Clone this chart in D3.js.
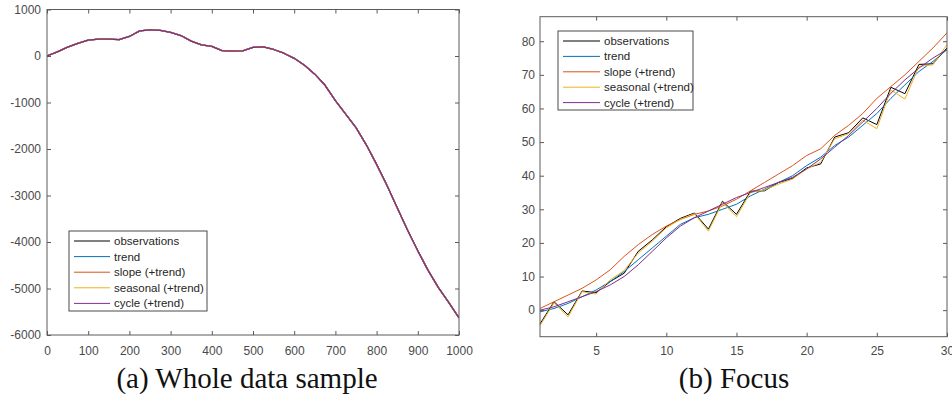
<!DOCTYPE html>
<html>
<head>
<meta charset="utf-8">
<script src="https://cdn.jsdelivr.net/npm/d3@7"></script>
<style>
  html, body { margin: 0; padding: 0; background: #fff; }
  svg { display: block; }
  .tick text { font-family: "Liberation Sans", Arial, sans-serif; font-size: 12px; fill: #4a4a4a; }
  .legend text { font-family: "Liberation Sans", Arial, sans-serif; font-size: 11.5px; fill: #262626; }
  .caption { font-family: "Liberation Serif", "Times New Roman", serif; font-size: 29px; fill: #111; }
</style>
</head>
<body>
<svg id="chart" width="952" height="400"></svg>
<script>
// ---------- data ----------
const seriesNames = ["observations", "trend", "slope (+trend)", "seasonal (+trend)", "cycle (+trend)"];
const seriesColors = ["#000000", "#0072BD", "#D95319", "#EDB120", "#7E2F8E"];

// (a) whole data sample (all components overlap)
const wholeX = [0,25,50,75,100,125,150,175,200,225,250,275,300,325,350,375,400,425,450,475,500,525,550,575,600,625,650,675,700,725,750,775,800,825,850,875,900,925,950,975,1000];
const wholeY = [0,90,190,270,340,365,365,350,420,540,560,550,510,440,320,240,205,115,105,110,185,195,140,60,-50,-200,-390,-630,-960,-1250,-1540,-1910,-2330,-2780,-3265,-3740,-4190,-4610,-4980,-5300,-5630];
const wholeXTicks = [0,100,200,300,400,500,600,700,800,900,1000];
const wholeYTicks = [-6000,-5000,-4000,-3000,-2000,-1000,0,1000];

// (b) focus on first 30 observations
const focusX = [1,2,3,4,5,6,7,8,9,10,11,12,13,14,15,16,17,18,19,20,21,22,23,24,25,26,27,28,29,30];
const observations = [-4.1,2.5,-1.4,5.7,5.2,8.5,11.0,17.5,20.9,24.8,27.3,28.9,24.1,32.4,28.5,35.4,35.5,38.0,39.2,42.3,43.5,51.5,52.8,57.2,55.2,66.3,64.4,73.1,73.3,78.0];
const trend        = [-0.5,0.5,2.0,4.0,6.0,8.5,11.5,15.0,18.5,22.0,25.5,27.5,28.5,30.0,31.5,34.0,36.0,38.0,40.0,43.0,45.5,49.0,51.5,55.0,58.5,63.0,67.0,71.0,74.0,77.5];
const slope        = [0.5,2.5,4.5,6.5,9.0,12.0,16.0,19.5,22.5,25.0,27.0,28.5,29.5,31.0,33.0,35.5,38.0,40.5,43.0,46.0,48.0,52.0,55.0,58.5,63.0,66.5,70.0,74.0,78.0,82.5];
const seasonal     = [-4.6,2.2,-2.0,5.5,4.8,9.0,11.8,17.0,20.5,24.5,27.0,28.7,23.5,32.0,27.8,35.0,35.8,37.5,39.0,42.0,44.0,51.0,52.5,56.5,54.0,65.5,62.8,72.5,73.0,79.0];
const cycle        = [0.0,1.0,2.5,4.0,5.5,7.5,10.0,13.5,17.5,21.5,25.0,27.5,29.5,31.5,33.5,35.0,36.5,38.0,39.5,42.0,45.0,48.5,52.0,56.0,60.0,64.5,68.5,72.0,75.0,77.5];
const focusXTicks = [5,10,15,20,25,30];
const focusYTicks = [0,10,20,30,40,50,60,70,80];

const captions = ["(a) Whole data sample", "(b) Focus"];

// ---------- drawing ----------
const svg = d3.select("#chart");
svg.append("rect").attr("width", 952).attr("height", 400).attr("fill", "#fff");

const plainFormat = d => String(d); // hyphen-minus like the original

function drawPanel(cfg) {
  const g = svg.append("g");
  const x = d3.scaleLinear().domain(cfg.xDomain).range([cfg.left, cfg.right]);
  const y = d3.scaleLinear().domain(cfg.yDomain).range([cfg.bottom, cfg.top]);

  const clipId = "clip" + cfg.id;
  svg.append("clipPath").attr("id", clipId).append("rect")
    .attr("x", cfg.left).attr("y", cfg.top)
    .attr("width", cfg.right - cfg.left).attr("height", cfg.bottom - cfg.top);

  const line = d3.line().x(d => x(d[0])).y(d => y(d[1]));
  const lg = g.append("g").attr("clip-path", `url(#${clipId})`);
  cfg.series.forEach((s, i) => {
    lg.append("path")
      .datum(cfg.xs.map((xv, j) => [xv, s[j]]))
      .attr("fill", "none")
      .attr("stroke", seriesColors[i])
      .attr("stroke-width", cfg.lineWidth)
      .attr("stroke-linejoin", "round")
      .attr("d", line);
  });

  const axisColor = "#5a5a5a";
  const bottom = g.append("g").attr("transform", `translate(0,${cfg.bottom})`)
    .call(d3.axisBottom(x).tickValues(cfg.xTicks).tickSize(-4).tickPadding(cfg.xPad).tickFormat(plainFormat));
  const top = g.append("g").attr("transform", `translate(0,${cfg.top})`)
    .call(d3.axisTop(x).tickValues(cfg.xTicks).tickSize(-4).tickFormat(""));
  const left = g.append("g").attr("transform", `translate(${cfg.left},0)`)
    .call(d3.axisLeft(y).tickValues(cfg.yTicks).tickSize(-4).tickPadding(cfg.yPad).tickFormat(plainFormat));
  const right = g.append("g").attr("transform", `translate(${cfg.right},0)`)
    .call(d3.axisRight(y).tickValues(cfg.yTicks).tickSize(-4).tickFormat(""));
  [bottom, top, left, right].forEach(a => {
    a.select(".domain").remove();
    a.selectAll(".tick line").attr("stroke", axisColor);
  });
  g.append("rect")
    .attr("x", cfg.left).attr("y", cfg.top)
    .attr("width", cfg.right - cfg.left).attr("height", cfg.bottom - cfg.top)
    .attr("fill", "none").attr("stroke", axisColor).attr("stroke-width", 1);

  // legend
  const L = cfg.legend;
  const leg = g.append("g").attr("class", "legend");
  leg.append("rect").attr("x", L.x).attr("y", L.y).attr("width", L.w).attr("height", L.h)
    .attr("fill", "#fff").attr("stroke", "#4a4a4a").attr("stroke-width", 1);
  seriesNames.forEach((name, i) => {
    const yy = L.y + L.first + i * L.step;
    leg.append("line").attr("x1", L.x + 5).attr("x2", L.x + 5 + L.lineLen)
      .attr("y1", yy).attr("y2", yy).attr("stroke", seriesColors[i]).attr("stroke-width", 1);
    leg.append("text").attr("x", L.x + 9 + L.lineLen).attr("y", yy).attr("dy", "0.35em").text(name);
  });

  g.append("text").attr("class", "caption")
    .attr("x", cfg.captionX).attr("y", 388).attr("text-anchor", "middle").text(cfg.caption);
}

drawPanel({
  id: "a", left: 47, right: 459, top: 9.5, bottom: 335,
  xDomain: [0, 1000], yDomain: [-6000, 1000],
  xs: wholeX, series: [wholeY, wholeY, wholeY, wholeY, wholeY],
  xTicks: wholeXTicks, yTicks: wholeYTicks, xPad: 11, yPad: 6, lineWidth: 1.3,
  legend: { x: 69, y: 231, w: 138, h: 80, first: 10, step: 15.6, lineLen: 36 },
  caption: captions[0], captionX: 247
});

drawPanel({
  id: "b", left: 540, right: 947, top: 16.7, bottom: 336.7,
  xDomain: [1, 30], yDomain: [-7.9, 87.3],
  xs: focusX, series: [observations, trend, slope, seasonal, cycle],
  xTicks: focusXTicks, yTicks: focusYTicks, xPad: 10, yPad: 5, lineWidth: 1,
  legend: { x: 558, y: 31, w: 135, h: 79, first: 10, step: 15.4, lineLen: 37 },
  caption: captions[1], captionX: 734
});
</script>
</body>
</html>
